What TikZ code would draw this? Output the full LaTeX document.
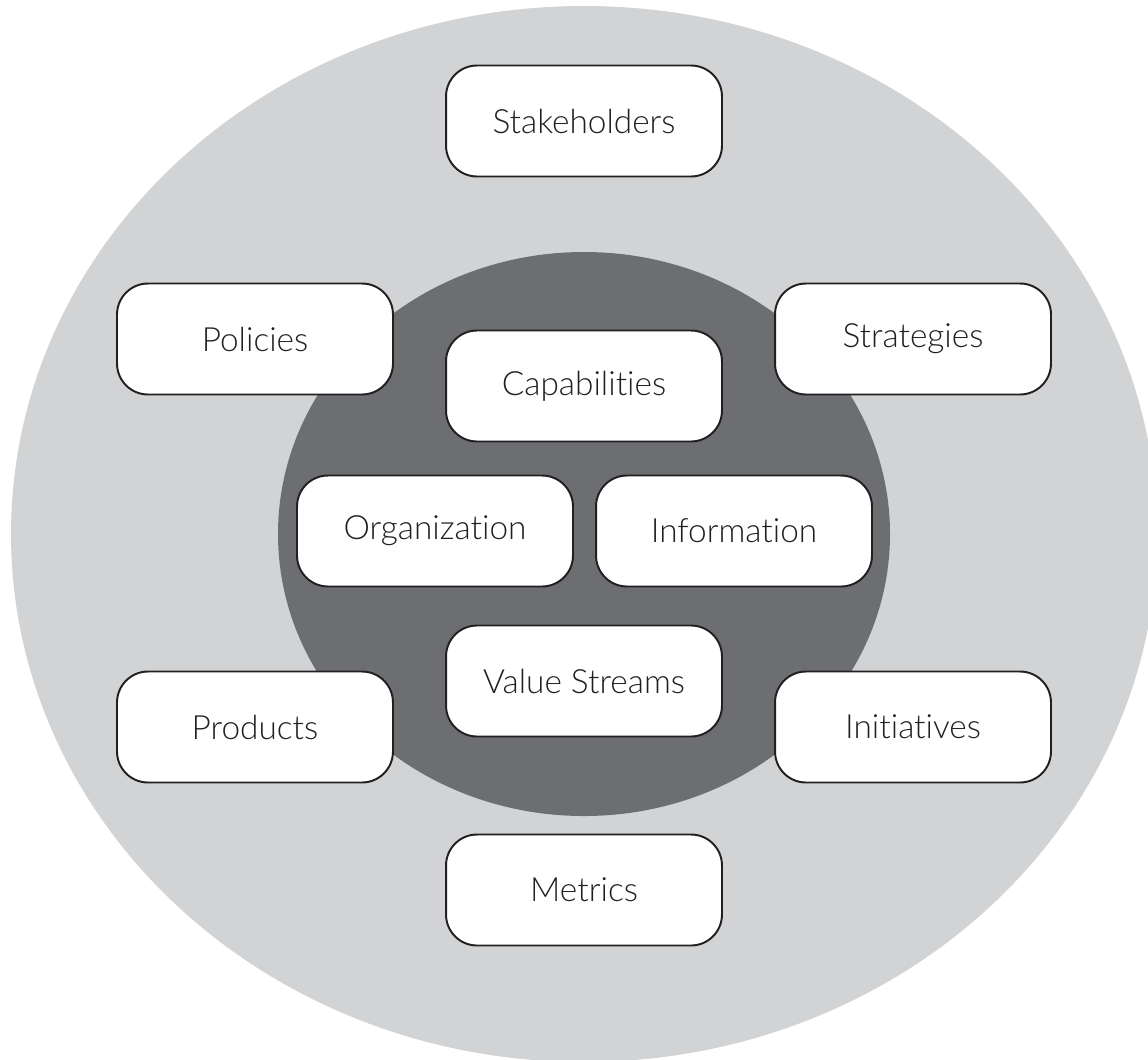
\documentclass[tikz,border=0pt]{standalone}
\usepackage{fontspec}
\setmainfont{Lato}[UprightFont=* Light, Ligatures=NoCommon]
\definecolor{OuterGray}{RGB}{209,211,212}
\definecolor{InnerGray}{RGB}{109,110,113}
\definecolor{EdgeBlack}{RGB}{35,31,32}
\usepackage{tikz}
\usetikzlibrary{positioning}

\begin{document}
\begin{tikzpicture}[x=0.02cm,y=-0.02cm,
    areabox/.style={draw=EdgeBlack, line width=1.1pt, fill=white, rounded corners=0.62cm,
      minimum width=5.52cm, minimum height=2.22cm, inner sep=0pt,
      text=EdgeBlack, font=\fontsize{19}{22}\selectfont}]
  \useasboundingbox (0,0) rectangle (1148,1059);
  \begin{scope}
    \clip (0,0) rectangle (1148,1059);
    % outer ring and inner core
    \fill[OuterGray] (584,534) ellipse [x radius=573, y radius=528];
    \fill[InnerGray] (584,534) ellipse [x radius=306, y radius=282];
  \end{scope}

  % outer elements
  \foreach \n/\x/\y/\t in {stake/584/121/Stakeholders, pol/255/339/Policies,
      strat/913/339/Strategies, prod/255/727/Products,
      init/913/727/Initiatives, metr/584/890/Metrics}
    \node[areabox] (\n) at (\x,\y) {\t};

  % core elements
  \foreach \n/\x/\y/\t in {cap/584/386/Capabilities, org/435/531/Organization,
      info/734/531/Information, vs/584/681/Value Streams}
    \node[areabox] (\n) at (\x,\y) {\t};
\end{tikzpicture}
\end{document}
